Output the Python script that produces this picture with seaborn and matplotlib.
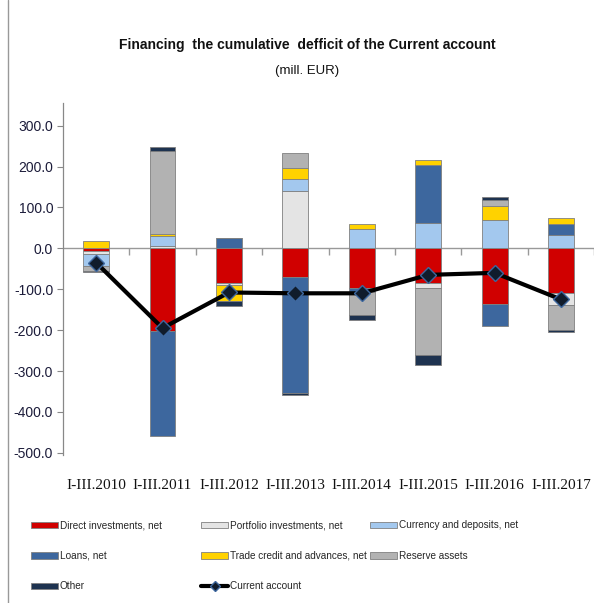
import matplotlib
matplotlib.use("Agg")
import matplotlib.pyplot as plt
import seaborn as sns
import numpy as np
import pandas as pd
from matplotlib.patches import Patch
from matplotlib.lines import Line2D

categories = ["I-III.2010", "I-III.2011", "I-III.2012", "I-III.2013",
              "I-III.2014", "I-III.2015", "I-III.2016", "I-III.2017"]
direct_inv = [-7, -202, -85, -69, -97, -85, -135, -110]
portfolio_inv = [-6, 5, -5, 139, 0, -12, 0, -28]
currency_dep = [-30, 25, 0, 31, 47, 61, 68, 33]
loans = [0, -258, 25, -285, -11, 143, -54, 27]
trade_credit = [19, 5, -40, 26, 13, 13, 35, 13]
reserve_assets = [-12, 204, 0, 38, -54, -163, 15, -62]
other = [-3, 8, -10, -5, -14, -25, 8, -4]
current_account = [-35, -195, -108, -110, -110, -65, -60, -125]

series = [
    ("Direct investments, net", direct_inv, "#D00000"),
    ("Portfolio investments, net", portfolio_inv, "#E4E4E4"),
    ("Currency and deposits, net", currency_dep, "#A3C8EE"),
    ("Loans, net", loans, "#3D679E"),
    ("Trade credit and advances, net", trade_credit, "#FFD200"),
    ("Reserve assets", reserve_assets, "#B2B2B2"),
    ("Other", other, "#1E3350"),
]

sns.set_theme(style="white")
plt.rcParams['font.family'] = ['Liberation Sans', 'DejaVu Sans']

fig = plt.figure(figsize=(5.99, 6.03), dpi=100)
ax = fig.add_axes([0.105, 0.245, 0.887, 0.584])

x = np.arange(len(categories))
pos_bottom = np.zeros(len(categories))
neg_bottom = np.zeros(len(categories))
handles = {}
for name, vals, col in series:
    v = np.array(vals, dtype=float)
    b = np.where(v >= 0, pos_bottom, neg_bottom)
    ax.bar(x, v, bottom=b, width=0.39, color=col, edgecolor="#808080",
           linewidth=0.6, zorder=2)
    pos_bottom += np.where(v >= 0, v, 0)
    neg_bottom += np.where(v < 0, v, 0)
    handles[name] = Patch(facecolor=col, edgecolor="#808080", linewidth=0.6)

df = pd.DataFrame({"x": x, "ca": current_account})
sns.lineplot(data=df, x="x", y="ca", ax=ax, color="black", linewidth=3,
             marker="D", markersize=8.5, markerfacecolor="#101c2c",
             markeredgecolor="#3D679E", markeredgewidth=1.0, zorder=4)

ax.set_xlim(-0.5, len(categories) - 0.5)
ax.set_ylim(-506, 355)
ax.set_yticks(np.arange(-500, 301, 100))
ax.set_yticklabels([f"{t:.1f}" for t in np.arange(-500, 301, 100)],
                   fontsize=10, color="#1c1c3a")
ax.set_xticks(x)
ax.set_xticklabels(categories, fontsize=11, family="Liberation Serif", color="#111111")
ax.tick_params(axis="x", length=0, pad=17)
ax.tick_params(axis="y", length=4, width=0.8, color="#888888", left=True, pad=3)
ax.set_xlabel("")
ax.set_ylabel("")

for s in ["top", "right", "bottom"]:
    ax.spines[s].set_visible(False)
ax.spines["left"].set_color("#888888")
ax.spines["left"].set_linewidth(0.9)

ax.axhline(0, color="#999999", linewidth=1.0, zorder=1)
ax.vlines(np.arange(0.5, len(categories), 1.0), -17, 0, color="#999999",
          linewidth=1.0, zorder=1)

fig.text(0.513, 0.925, "Financing  the cumulative  defficit of the Current account",
         ha="center", va="center", fontsize=10, fontweight="bold", color="#111111")
fig.text(0.513, 0.883, "(mill. EUR)", ha="center", va="center", fontsize=9.5,
         color="#111111")

handles["Current account"] = Line2D([0], [0], color="black", linewidth=3,
                                    marker="D", markersize=5,
                                    markerfacecolor="#101c2c",
                                    markeredgecolor="#3D679E")
columns = [
    (0.052, ["Direct investments, net", "Loans, net", "Other"]),
    (0.336, ["Portfolio investments, net", "Trade credit and advances, net", "Current account"]),
    (0.618, ["Currency and deposits, net", "Reserve assets"]),
]
for xpos, names in columns:
    fig.legend([handles[k] for k in names], names, loc="upper left",
               bbox_to_anchor=(xpos, 0.137), ncol=1, frameon=False,
               prop={"size": 7.2},
               handlelength=2.7, handleheight=0.6, handletextpad=0.15,
               labelspacing=2.05, borderaxespad=0, borderpad=0)

fig.add_artist(Line2D([0.013, 0.013], [0.0, 1.0], color="#999999", linewidth=1.0,
                      transform=fig.transFigure))

fig.savefig("out.png", dpi=100)
